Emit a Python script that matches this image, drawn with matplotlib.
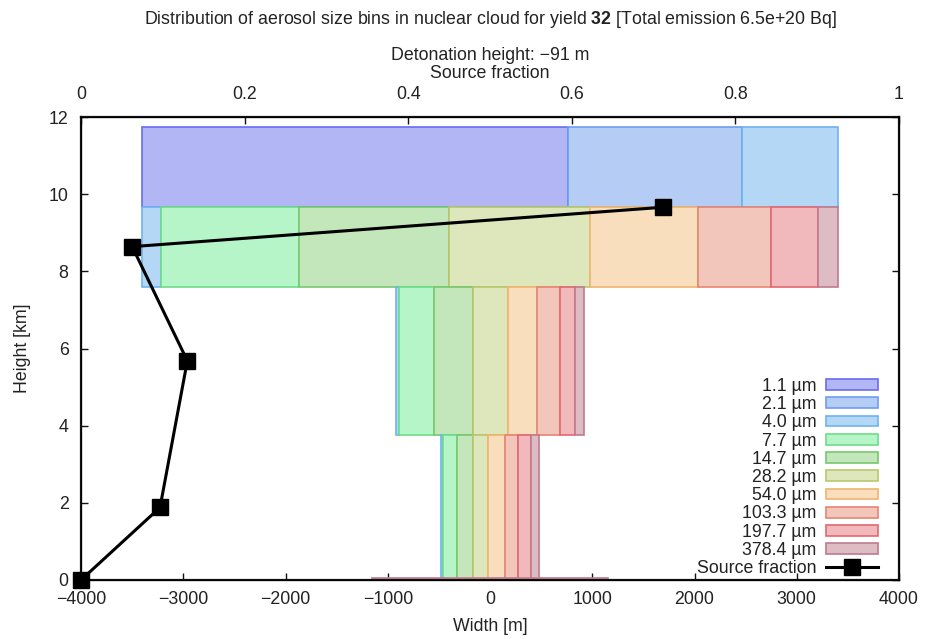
import matplotlib
matplotlib.use("Agg")
import matplotlib.pyplot as plt
from matplotlib.patches import Patch
from matplotlib.lines import Line2D
import numpy as np

plt.rcParams['font.family'] = ['Liberation Sans', 'DejaVu Sans']
plt.rcParams['mathtext.fontset'] = 'custom'
plt.rcParams['mathtext.rm'] = 'Liberation Sans'
plt.rcParams['mathtext.bf'] = 'Liberation Sans:bold'

# ---- data ----
bin_labels = ['1.1 µm', '2.1 µm', '4.0 µm', '7.7 µm', '14.7 µm', '28.2 µm',
              '54.0 µm', '103.3 µm', '197.7 µm', '378.4 µm']
fill_colors = ['#b3b6f5', '#b5ccf5', '#b4d7f5', '#b5f5c8', '#c3e6bb', '#dee6bb',
               '#f8debc', '#f3c6bc', '#f2b9bc', '#ddbcc3']
edge_colors = ['#6a6cf0', '#6e9cf0', '#6eb4f0', '#6edc8a', '#78c86e', '#b8c86e',
               '#f0b46e', '#e68472', '#e06870', '#c07a8e']

# cloud layers: bottom / top heights [km]
layer_bottom = [9.67, 7.59, 3.76, 0.0, 0.0]
layer_top = [11.74, 9.67, 7.59, 3.76, 0.05]
# widths [m] of each size bin in each layer
layer_widths = [
    [4166, 1702, 932, 0, 0, 0, 0, 0, 0, 0],
    [0, 0, 180, 1354, 1467, 1379, 1056, 714, 460, 190],
    [0, 0, 32, 342, 376, 342, 284, 228, 147, 88],
    [0, 0, 20, 143, 151, 152, 164, 130, 124, 81],
    [0, 0, 0, 0, 0, 0, 0, 0, 0, 2314],
]

# source fraction per layer
src_height = [0.0, 1.88, 5.68, 8.64, 9.66]
src_fraction = [0.0, 0.0966, 0.13, 0.0626, 0.711]

FS = 12.8
TXT = '#222222'

# ---- figure ----
fig = plt.figure(figsize=(9.25, 6.39), dpi=100)
ax = fig.add_axes([81/925, 1-580/639, 818/925, 463/639])

for lb, lt, widths in zip(layer_bottom, layer_top, layer_widths):
    total = sum(widths)
    left = -total / 2.0
    for i, w in enumerate(widths):
        if w <= 0:
            continue
        ax.barh(lb, w, height=lt - lb, left=left, align='edge',
                facecolor=fill_colors[i], edgecolor=edge_colors[i],
                linewidth=1.2, zorder=2)
        left += w

ax.set_xlim(-4000, 4000)
ax.set_ylim(0, 12)
ax.set_xticks(np.arange(-4000, 4001, 1000))
ax.set_yticks(np.arange(0, 13, 2))
ax.set_xticklabels([str(v).replace('-', '\u2212') for v in range(-4000, 4001, 1000)])
ax.tick_params(direction='in', length=5, width=1, labelsize=FS, pad=8,
               right=True, top=False, colors='#111111', labelcolor=TXT)
ax.tick_params(axis='y', pad=9)
for s in ax.spines.values():
    s.set_linewidth(1.6)
    s.set_color('#111111')
ax.set_xlabel('Width [m]', fontsize=FS, labelpad=7, color=TXT)
ax.set_ylabel('Height [km]', fontsize=FS, labelpad=13, color=TXT)

ax2 = ax.twiny()
ax2.set_xlim(0, 1)
ax2.set_xticks([0, 0.2, 0.4, 0.6, 0.8, 1.0])
ax2.set_xticklabels(['0', '0.2', '0.4', '0.6', '0.8', '1'])
ax2.tick_params(direction='in', length=5, width=1, labelsize=FS, pad=10,
                colors='#111111', labelcolor=TXT)
ax2.plot(src_fraction, src_height, color='black', linewidth=2.2,
         marker='s', markersize=11, zorder=5, clip_on=False)

fig.text(490/925, 1-20/639, 'Distribution of aerosol size bins in nuclear cloud for yield '
         r'$\mathbf{32}$' ' [Total emission 6.5e+20 Bq]',
         ha='center', va='center', fontsize=FS, color=TXT)
fig.text(490/925, 1-55/639, 'Detonation height: \u221291 m', ha='center', va='center',
         fontsize=FS, color=TXT)
fig.text(490/925, 1-73/639, 'Source fraction', ha='center', va='center',
         fontsize=FS, color=TXT)

handles = [Patch(facecolor=fc, edgecolor=ec, linewidth=1.2)
           for fc, ec in zip(fill_colors, edge_colors)]
handles.append(Line2D([], [], color='black', linewidth=2.2, marker='s', markersize=11))
labels = bin_labels + ['Source fraction']
leg = ax.legend(handles, labels, loc='lower right', bbox_to_anchor=(0.974, 0.006),
                frameon=False, markerfirst=False, fontsize=FS, handlelength=2.9,
                handleheight=0.55, labelspacing=0.07, handletextpad=0.55,
                borderpad=0, borderaxespad=0, numpoints=1)
for t in leg.get_texts():
    t.set_color(TXT)

fig.savefig('out.png', dpi=100)
